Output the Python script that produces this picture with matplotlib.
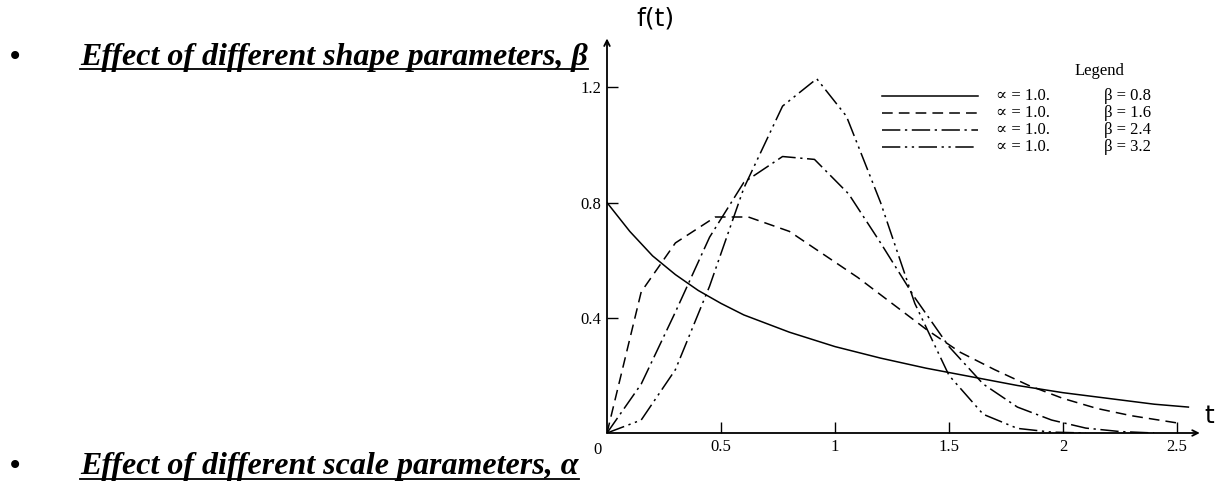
import matplotlib.pyplot as plt
from matplotlib.lines import Line2D

# values (t, f(t))
t_b08 = [0, 0.1, 0.2, 0.3, 0.4, 0.5, 0.6, 0.8, 1.0, 1.2, 1.4, 1.6, 1.8, 2.0, 2.2, 2.4, 2.55]
f_b08 = [0.80, 0.70, 0.615, 0.55, 0.495, 0.45, 0.41, 0.35, 0.30, 0.26, 0.225, 0.195, 0.165, 0.14, 0.12, 0.10, 0.09]

t_b16 = [0, 0.15, 0.3, 0.475, 0.62, 0.8, 0.95, 1.1, 1.25, 1.4, 1.55, 1.7, 1.85, 2.0, 2.15, 2.3, 2.5]
f_b16 = [0, 0.49, 0.66, 0.75, 0.75, 0.70, 0.62, 0.54, 0.45, 0.36, 0.28, 0.22, 0.165, 0.12, 0.085, 0.06, 0.035]

t_b24 = [0, 0.15, 0.3, 0.45, 0.6, 0.77, 0.91, 1.06, 1.2, 1.35, 1.5, 1.65, 1.8, 1.95, 2.1, 2.25, 2.4]
f_b24 = [0, 0.17, 0.42, 0.68, 0.87, 0.96, 0.95, 0.83, 0.66, 0.47, 0.30, 0.17, 0.09, 0.045, 0.017, 0.005, 0.0]

t_b32 = [0, 0.15, 0.3, 0.45, 0.6, 0.77, 0.92, 1.05, 1.2, 1.35, 1.5, 1.65, 1.8, 1.95, 2.1]
f_b32 = [0, 0.045, 0.22, 0.51, 0.85, 1.135, 1.23, 1.10, 0.80, 0.45, 0.20, 0.065, 0.016, 0.003, 0.0]

legend_alpha = ["∝ = 1.0.", "∝ = 1.0.", "∝ = 1.0.", "∝ = 1.0."]
legend_beta = ["β = 0.8", "β = 1.6", "β = 2.4", "β = 3.2"]
x_ticks = [0.5, 1, 1.5, 2, 2.5]
y_ticks = [0.4, 0.8, 1.2]

serif = ["Liberation Serif", "DejaVu Serif"]
W, H = 1215, 490
fig = plt.figure(figsize=(W / 100, H / 100), dpi=100)

# axes placed in pixel terms: origin at (607, 433)
x0, y0 = 607, 433
xmax, ymax = 2.6, 1.39
px_x, px_y = 228, 288
ax = fig.add_axes([x0 / W, (H - y0) / H, xmax * px_x / W, ymax * px_y / H])
ax.set_xlim(0, xmax)
ax.set_ylim(0, ymax)
for s in ax.spines.values():
    s.set_visible(False)

styles = [
    dict(linestyle="-"),
    dict(dashes=(7, 4)),
    dict(dashes=(12, 3, 1.5, 3)),
    dict(dashes=(12, 3, 1.5, 3, 1.5, 3)),
]
series = [(t_b08, f_b08), (t_b16, f_b16), (t_b24, f_b24), (t_b32, f_b32)]
for (tt, ff), st in zip(series, styles):
    ax.plot(tt, ff, color="black", lw=1.1, **st)

# axes with arrows
ax.annotate("", xy=(0, 1.37), xytext=(0, 0), annotation_clip=False,
            arrowprops=dict(arrowstyle="->", lw=1.3, color="black", shrinkA=0, shrinkB=0))
ax.annotate("", xy=(2.6, 0), xytext=(0, 0), annotation_clip=False,
            arrowprops=dict(arrowstyle="->", lw=1.3, color="black", shrinkA=0, shrinkB=0))

ax.set_xticks(x_ticks)
ax.set_yticks(y_ticks)
ax.set_xticklabels([f"{v:g}" for v in x_ticks], fontfamily=serif, fontsize=12)
ax.set_yticklabels([f"{v:g}" for v in y_ticks], fontfamily=serif, fontsize=12)
ax.tick_params(direction="in", length=8, width=1.0, pad=4)
ax.text(-0.04, -0.03, "0", ha="center", va="top", fontfamily=serif, fontsize=12)

ax.text(0.13, 1.44, "f(t)", ha="left", va="center", fontsize=18, fontfamily="DejaVu Sans")
ax.text(2.62, 0.06, "t", ha="left", va="center", fontsize=18, fontfamily="DejaVu Sans")

# legend drawn by hand in figure pixels
fig.text(1075 / W, 1 - 71 / H, "Legend", ha="left", va="center", fontfamily=serif, fontsize=12)
rows_y = [96, 113, 130, 147]
for yy, st, a, b in zip(rows_y, styles, legend_alpha, legend_beta):
    fy = 1 - yy / H
    fig.add_artist(Line2D([882 / W, 978 / W], [fy, fy], color="black", lw=1.1, **st))
    fig.text(996 / W, fy, a, ha="left", va="center", fontfamily=serif, fontsize=12)
    fig.text(1104 / W, fy, b, ha="left", va="center", fontfamily=serif, fontsize=12)

# bullet headings with underline
heads = [(57, "Effect of different shape parameters, β"),
         (466, "Effect of different scale parameters, α")]
for yy, txt in heads:
    fy = 1 - yy / H
    fig.text(15 / W, fy, "•", ha="center", va="center", fontsize=20)
    t = fig.text(80 / W, fy, txt, ha="left", va="center", fontfamily=serif,
                 fontsize=23, fontweight="bold", fontstyle="italic")
    fig.canvas.draw()
    bb = t.get_window_extent()
    uy = (bb.y0 + 2) / H
    fig.add_artist(Line2D([bb.x0 / W, bb.x1 / W], [uy, uy], color="black", lw=1.3))

fig.savefig("out.png", dpi=100)
